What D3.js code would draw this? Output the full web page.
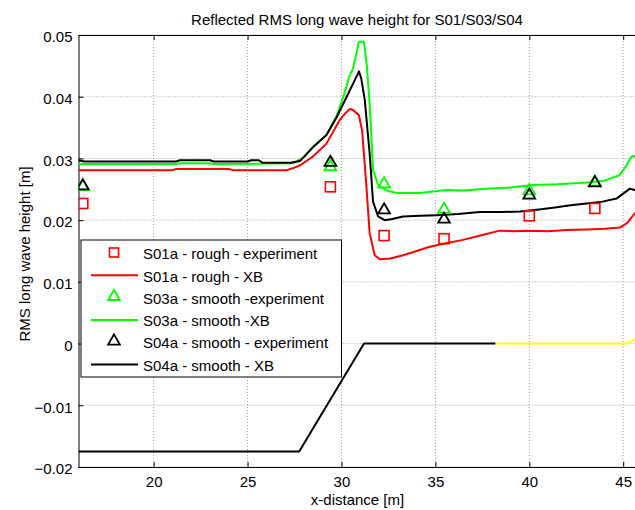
<!DOCTYPE html>
<html>
<head>
<meta charset="utf-8">
<script src="https://cdn.jsdelivr.net/npm/d3@7"></script>
<style>
  html, body { margin: 0; padding: 0; background: #fff; }
  svg { display: block; font-family: "Liberation Sans", Arial, sans-serif; }
</style>
</head>
<body>
<svg id="chart" width="635" height="510"></svg>
<script>
// Tick values
const xTicks = [20, 25, 30, 35, 40, 45];
const yTicks = [-0.02, -0.01, 0, 0.01, 0.02, 0.03, 0.04, 0.05];

// XB model: S01a rough (red)
const redX = [16, 21.0, 21.2, 24.0, 24.2, 27.1, 27.4, 27.8, 28.48, 29.2, 29.9, 30.2, 30.45, 30.6, 30.93, 31.1, 31.33, 31.5, 31.77, 32.04, 32.6, 33.28, 34.0, 34.7, 35.5, 36.47, 37.5, 38.43, 39.2, 39.85, 41.0, 42.0, 43.05, 44.0, 44.82, 45.2, 45.62, 46];
const redY = [0.0281, 0.0281, 0.0283, 0.0283, 0.0281, 0.0281, 0.0284, 0.0289, 0.0303, 0.0324, 0.0362, 0.0373, 0.0380, 0.0379, 0.0370, 0.0345, 0.0254, 0.0179, 0.0143, 0.01365, 0.0138, 0.0143, 0.0150, 0.0157, 0.0162, 0.0168, 0.0176, 0.0183, 0.0182, 0.0183, 0.0182, 0.0184, 0.0185, 0.0186, 0.0188, 0.0195, 0.0211, 0.0218];

// XB model: S03a smooth (green)
const greenX = [16, 21.2, 21.4, 23.0, 23.2, 27.42, 28.0, 28.48, 29.2, 29.73, 30.1, 30.44, 30.61, 30.93, 31.2, 31.35, 31.5, 31.68, 31.95, 32.4, 32.93, 34.17, 35.6, 36.5, 37.7, 39.0, 40.2, 41.5, 43.05, 44.0, 44.8, 45.1, 45.45, 46];
const greenY = [0.0291, 0.0291, 0.0292, 0.0292, 0.0291, 0.0292, 0.0302, 0.0319, 0.0338, 0.0368, 0.0400, 0.0435, 0.0445, 0.0489, 0.0489, 0.0450, 0.0389, 0.0281, 0.0257, 0.0248, 0.0244, 0.0244, 0.0249, 0.0248, 0.0251, 0.0253, 0.0257, 0.0258, 0.0261, 0.0264, 0.0273, 0.0285, 0.0303, 0.0306];

// XB model: S04a smooth (black)
const blackX = [16, 16.3, 21.2, 21.4, 23.0, 23.2, 25.0, 25.2, 25.6, 25.8, 27.3, 27.8, 28.48, 29.2, 29.73, 30.2, 30.6, 30.93, 31.05, 31.24, 31.5, 31.68, 31.95, 32.3, 32.7, 33.28, 34.2, 35.06, 36.2, 37.36, 38.5, 39.5, 40.4, 41.27, 42.2, 43.05, 43.9, 44.65, 45.0, 45.36, 45.7, 46];
const blackY = [0.0297, 0.0295, 0.0295, 0.0297, 0.0297, 0.0295, 0.0295, 0.0297, 0.0297, 0.0293, 0.0293, 0.0296, 0.0318, 0.0338, 0.0366, 0.0395, 0.0420, 0.0441, 0.0430, 0.0395, 0.0308, 0.0230, 0.0206, 0.0200, 0.0202, 0.0206, 0.0207, 0.0208, 0.0210, 0.0213, 0.0213, 0.0214, 0.0217, 0.0220, 0.0224, 0.0227, 0.0230, 0.0235, 0.0243, 0.0251, 0.0248, 0.0249];

// Measured gauge values
const gaugeX = [16.23, 29.41, 32.27, 35.46, 40.0, 43.49];
const s01Exp = [0.0227, 0.0254, 0.0175, 0.0170, 0.0207, 0.0219];
const s03Exp = [0.0256, 0.0288, 0.0260, 0.0219, 0.0249, 0.0263];
const s04Exp = [0.0257, 0.0295, 0.0218, 0.0203, 0.0242, 0.0262];

// Bed profile
const bedX = [16, 27.75, 31.2, 38.2];
const bedY = [-0.0175, -0.0175, 0, 0];
const shoreX = [38.2, 45.15, 46];
const shoreY = [0, 0, 0.0013];

const legendLabels = [
  "S01a - rough - experiment",
  "S01a - rough - XB",
  "S03a - smooth -experiment",
  "S03a - smooth -XB",
  "S04a - smooth - experiment",
  "S04a - smooth - XB"
];

const RED = "#ff0000", GREEN = "#00ff00", BLACK = "#000000", YELLOW = "#ffff00";
const FS = 15;

const svg = d3.select("#chart");
const plotLeft = 78.5, plotTop = 35, plotBottom = 467, plotRight = 642;

const x = d3.scaleLinear().domain([16, 46]).range([plotLeft, plotRight]);
const y = d3.scaleLinear().domain([-0.02, 0.05]).range([plotBottom, plotTop]);

svg.append("defs").append("clipPath").attr("id", "plotClip")
  .append("rect").attr("x", plotLeft).attr("y", plotTop)
  .attr("width", plotRight - plotLeft).attr("height", plotBottom - plotTop);

// Grid
const grid = svg.append("g");
grid.selectAll("line.gx").data(xTicks).join("line")
  .attr("x1", d => x(d)).attr("x2", d => x(d))
  .attr("y1", plotTop).attr("y2", plotBottom)
  .attr("stroke", "#888").attr("stroke-width", 0.8).attr("stroke-dasharray", "1,2");
grid.selectAll("line.gy").data(yTicks).join("line")
  .attr("x1", plotLeft).attr("x2", plotRight)
  .attr("y1", d => y(d)).attr("y2", d => y(d))
  .attr("stroke", "#888").attr("stroke-width", 0.8).attr("stroke-dasharray", "1,2");

// Axes
const xAxisB = d3.axisBottom(x).tickValues(xTicks).tickSizeInner(-5).tickSizeOuter(0).tickPadding(9).tickFormat(d3.format("d"));
const xAxisT = d3.axisTop(x).tickValues(xTicks).tickSizeInner(-5).tickSizeOuter(0).tickFormat("");
const yAxisL = d3.axisLeft(y).tickValues(yTicks).tickSizeInner(-5).tickSizeOuter(0).tickPadding(6)
  .tickFormat(d => d === 0 ? "0" : d3.format(".2f")(d));

function styleAxis(g) {
  g.select(".domain").attr("stroke", "#000").attr("stroke-width", 1);
  g.selectAll(".tick line").attr("stroke", "#000");
  g.selectAll(".tick text").attr("font-size", FS).attr("fill", "#000")
    .attr("font-family", "Liberation Sans, Arial, sans-serif");
}
svg.append("g").attr("transform", `translate(0,${plotBottom})`).call(xAxisB).call(styleAxis);
svg.append("g").attr("transform", `translate(0,${plotTop})`).call(xAxisT).call(styleAxis);
svg.append("g").attr("transform", `translate(${plotLeft},0)`).call(yAxisL).call(styleAxis)
  .selectAll(".tick text").attr("dy", "0.45em");

const plot = svg.append("g").attr("clip-path", "url(#plotClip)");

const line = d3.line().x(d => x(d[0])).y(d => y(d[1]));
function drawLine(xs, ys, color, w) {
  plot.append("path").datum(d3.zip(xs, ys)).attr("d", line)
    .attr("fill", "none").attr("stroke", color).attr("stroke-width", w)
    .attr("stroke-linejoin", "round");
}

drawLine(redX, redY, RED, 2);
drawLine(greenX, greenY, GREEN, 2);
drawLine(blackX, blackY, BLACK, 2);

const tri = d3.symbol().type(d3.symbolTriangle).size(60);
function squares(xs, ys, color) {
  plot.append("g").selectAll("rect").data(d3.zip(xs, ys)).join("rect")
    .attr("x", d => x(d[0]) - 5).attr("y", d => y(d[1]) - 5)
    .attr("width", 10).attr("height", 10)
    .attr("fill", "none").attr("stroke", color).attr("stroke-width", 1.6);
}
function triangles(xs, ys, color) {
  plot.append("g").selectAll("path").data(d3.zip(xs, ys)).join("path")
    .attr("d", tri)
    .attr("transform", d => `translate(${x(d[0])},${y(d[1]) + 1})`)
    .attr("fill", "none").attr("stroke", color).attr("stroke-width", 1.8);
}
squares(gaugeX, s01Exp, RED);
triangles(gaugeX, s03Exp, GREEN);
triangles(gaugeX, s04Exp, BLACK);

drawLine(bedX, bedY, BLACK, 2);
drawLine(shoreX, shoreY, YELLOW, 2);

// Legend
const lg = svg.append("g");
lg.append("rect").attr("x", 81).attr("y", 240).attr("width", 260.5).attr("height", 137)
  .attr("fill", "#fff").attr("stroke", "#000").attr("stroke-width", 1);
const rowY = i => 253 + i * 22.3;
const legendStyles = [
  { kind: "square", color: RED },
  { kind: "line", color: RED },
  { kind: "tri", color: GREEN },
  { kind: "line", color: GREEN },
  { kind: "tri", color: BLACK },
  { kind: "line", color: BLACK }
];
legendLabels.forEach((lab, i) => {
  const s = legendStyles[i], yy = rowY(i);
  if (s.kind === "line") {
    lg.append("line").attr("x1", 91).attr("x2", 138).attr("y1", yy).attr("y2", yy)
      .attr("stroke", s.color).attr("stroke-width", 2);
  } else if (s.kind === "square") {
    lg.append("rect").attr("x", 109.5).attr("y", yy - 5).attr("width", 9).attr("height", 9)
      .attr("fill", "none").attr("stroke", s.color).attr("stroke-width", 1.6);
  } else {
    lg.append("path").attr("d", tri).attr("transform", `translate(114,${yy - 1})`)
      .attr("fill", "none").attr("stroke", s.color).attr("stroke-width", 1.8);
  }
  lg.append("text").attr("x", 143).attr("y", yy + 1).attr("dy", "0.35em")
    .attr("font-size", FS).attr("fill", "#000").text(lab);
});

// Titles
svg.append("text").attr("x", 357).attr("y", 20).attr("dy", "0.35em")
  .attr("text-anchor", "middle").attr("font-size", FS).text("Reflected RMS long wave height for S01/S03/S04");
svg.append("text").attr("x", 357.5).attr("y", 505)
  .attr("text-anchor", "middle").attr("font-size", FS).text("x-distance [m]");
svg.append("text").attr("transform", "translate(30,254) rotate(-90)")
  .attr("text-anchor", "middle").attr("font-size", FS).text("RMS long wave height [m]");
</script>
</body>
</html>
